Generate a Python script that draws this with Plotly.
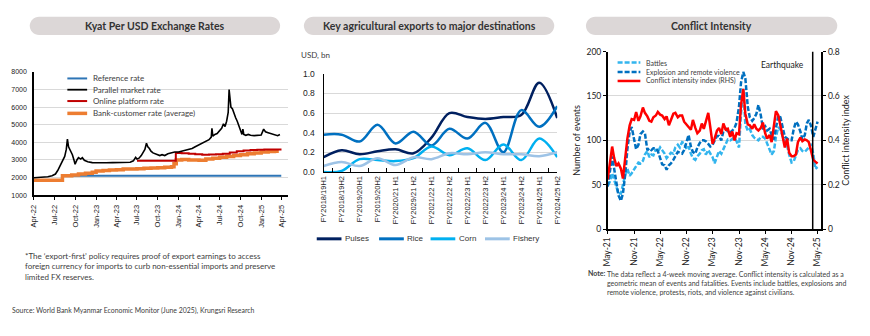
import plotly.graph_objects as go
import pandas as pd

W, H = 870, 336

# ---------------- Panel 1 data: Kyat per USD ----------------
par_dates = ["2022-04-01","2022-05-01","2022-06-01","2022-06-20","2022-07-05","2022-07-15","2022-07-25",
             "2022-08-05","2022-08-15","2022-08-22","2022-08-27","2022-09-01","2022-09-06","2022-09-12",
             "2022-09-18","2022-09-25","2022-09-30","2022-10-08","2022-10-15","2022-10-25","2022-11-01",
             "2022-11-10","2022-11-25","2022-12-15","2023-01-15","2023-02-15","2023-03-15","2023-04-15",
             "2023-05-15","2023-06-01","2023-06-15","2023-06-25","2023-07-01","2023-07-10","2023-07-20",
             "2023-07-28","2023-08-05","2023-08-12","2023-08-18","2023-08-25","2023-09-01","2023-09-10",
             "2023-09-20","2023-10-01","2023-10-10","2023-10-20","2023-11-01","2023-11-15","2023-12-01",
             "2023-12-15","2024-01-01","2024-01-15","2024-02-01","2024-02-15","2024-03-01","2024-03-15",
             "2024-04-01","2024-04-15","2024-05-01","2024-05-15","2024-05-25","2024-05-28","2024-06-01",
             "2024-06-10","2024-06-20","2024-07-01","2024-07-10","2024-07-18","2024-07-25","2024-08-01",
             "2024-08-08","2024-08-12","2024-08-16","2024-08-20","2024-08-27","2024-09-03","2024-09-10",
             "2024-09-17","2024-09-24","2024-10-01","2024-10-08","2024-10-12","2024-10-16","2024-10-25",
             "2024-11-05","2024-11-15","2024-12-01","2024-12-15","2025-01-01","2025-01-12","2025-01-20",
             "2025-02-01","2025-02-15","2025-03-01","2025-03-15","2025-03-25"]
par_vals = [1990,2000,2050,2100,2200,2400,2650,
            2900,3200,3600,4180,3750,3600,3500,
            3300,3000,2760,3000,3130,3050,3130,
            2980,2900,2850,2830,2840,2850,2850,
            2860,2870,2950,3150,3050,3100,3250,
            3400,3600,3950,3750,3650,3500,3400,
            3350,3300,3250,3300,3250,3350,3400,
            3450,3450,3500,3550,3600,3650,3750,
            3850,3950,4050,4150,4300,4800,4350,
            4450,4500,4650,4800,5050,4900,5200,
            5700,7000,6300,6000,5900,5600,5400,
            5200,4900,4700,4450,4750,4450,4400,
            4450,4400,4380,4400,4420,4750,4600,
            4550,4480,4420,4380,4450]

ref_dates = ["2022-04-01","2022-08-05","2025-03-31"]
ref_vals = [1850,2100,2100]

onl_dates = ["2023-07-01","2023-12-20","2024-01-15","2024-02-15","2024-03-15","2024-04-15","2024-05-15",
             "2024-06-15","2024-07-15","2024-08-15","2024-09-15","2024-10-15","2024-11-15","2024-12-15",
             "2025-01-15","2025-02-15","2025-04-01"]
onl_vals = [2950,3400,3380,3350,3330,3300,3310,3330,3360,3420,3500,3540,3570,3580,3600,3600,3600]

bank_dates = ["2022-04-01","2022-08-05","2022-09-15","2022-10-15","2022-11-15","2022-12-15","2023-01-01",
              "2023-02-01","2023-03-01","2023-04-01","2023-05-01","2023-07-01","2023-08-01","2023-09-01",
              "2023-10-01","2023-11-01","2023-12-01","2023-12-12","2023-12-22","2024-01-15","2024-02-15",
              "2024-04-01","2024-05-01","2024-06-01","2024-07-01","2024-08-01","2024-09-01","2024-10-01",
              "2024-11-01","2024-12-01","2025-01-01","2025-02-01","2025-03-01","2025-03-20"]
bank_vals = [1850,2100,2150,2200,2250,2300,2380,
             2400,2430,2450,2480,2500,2530,2550,
             2560,2580,2620,2780,3000,3030,3000,
             2990,3050,3100,3150,3200,3250,3300,
             3350,3400,3450,3480,3500,3500]

fx_ticks = ["2022-04-01","2022-07-01","2022-10-01","2023-01-01","2023-04-01","2023-07-01","2023-10-01",
            "2024-01-01","2024-04-01","2024-07-01","2024-10-01","2025-01-01","2025-04-01"]
fx_ticklabels = ["Apr-22","Jul-22","Oct-22","Jan-23","Apr-23","Jul-23","Oct-23",
                 "Jan-24","Apr-24","Jul-24","Oct-24","Jan-25","Apr-25"]

# ---------------- Panel 2 data: agricultural exports ----------------
periods = ["FY2018/19H1","FY2018/19H2","FY2019/20H1","FY2019/20H2","FY2020/21 H1","FY2029/21 H2",
           "FY2021/22 H1","FY2021/22 H2","FY2022/23 H1","FY2022/23 H2","FY2023/24 H1","FY2023/24 H2",
           "FY2024/25 H1","FY2024/25 H2"]
pulses = [0.15,0.22,0.18,0.21,0.23,0.19,0.35,0.60,0.56,0.54,0.56,0.58,0.91,0.55]
rice = [0.38,0.38,0.31,0.48,0.29,0.41,0.27,0.44,0.34,0.50,0.20,0.63,0.46,0.67]
corn = [0.0,0.01,0.13,0.12,0.11,0.14,0.26,0.17,0.24,0.12,0.28,0.12,0.34,0.15]
fishery = [0.06,0.10,0.06,0.14,0.07,0.15,0.13,0.19,0.18,0.20,0.18,0.18,0.16,0.20]

# ---------------- Panel 3 data: conflict intensity (semi-monthly, 4-week MA) ----------------
battles = [49,53,63,55,45,40,40,50,62,68,
           60,63,67,71,75,74,77,84,88,81,
           84,83,90,87,92,89,85,80,84,86,
           85,92,95,92,98,97,90,93,85,80,
           78,82,85,89,90,84,89,85,81,74,
           83,88,85,90,98,101,100,101,103,99,
           92,130,158,118,111,113,106,103,101,100,
           104,104,102,97,90,84,88,104,115,112,
           104,99,94,84,75,76,84,89,91,88,
           87,89,92,96,85,68,70]
explosion = [48,62,82,68,52,38,32,40,63,90,
             110,115,101,90,95,107,110,108,89,91,
             89,91,91,88,80,73,72,67,72,74,
             78,82,87,86,85,89,99,106,93,87,
             85,92,97,100,100,99,96,93,95,100,
             105,105,100,110,113,110,109,111,114,120,
             138,165,177,170,138,126,122,125,130,140,
             128,114,116,111,113,106,101,114,128,126,
             114,104,102,100,100,112,121,118,110,101,
             106,119,123,117,104,112,121]
intensity = [0.224,0.300,0.372,0.320,0.284,0.296,0.272,0.228,0.328,0.408,
             0.468,0.496,0.492,0.528,0.488,0.508,0.548,0.524,0.508,0.488,
             0.484,0.504,0.512,0.528,0.516,0.512,0.496,0.508,0.468,0.488,
             0.520,0.524,0.504,0.512,0.512,0.484,0.468,0.460,0.448,0.492,
             0.456,0.432,0.444,0.476,0.452,0.488,0.524,0.460,0.384,0.408,
             0.444,0.456,0.428,0.476,0.448,0.452,0.416,0.440,0.400,0.432,
             0.428,0.560,0.632,0.520,0.472,0.468,0.452,0.472,0.452,0.444,
             0.456,0.480,0.432,0.408,0.424,0.392,0.480,0.532,0.512,0.464,
             0.400,0.368,0.408,0.344,0.328,0.328,0.336,0.392,0.412,0.396,
             0.404,0.400,0.392,0.360,0.312,0.304,0.296]
conf_dates = pd.date_range("2021-05-01", periods=len(battles), freq="SMS")
earthquake_date = "2025-03-28"
conf_ticks = ["2021-05-01","2021-11-01","2022-05-01","2022-11-01","2023-05-01","2023-11-01",
              "2024-05-01","2024-11-01","2025-05-01"]
conf_ticklabels = ["May-21","Nov-21","May-22","Nov-22","May-23","Nov-23","May-24","Nov-24","May-25"]

# ---------------- helpers (pixel -> paper) ----------------
def X(px):
    return px / W

def Y(py):
    return 1 - py / H

def pill(x0, y0, x1, y1):
    r = (y1 - y0) / 2
    k = 0.5523 * r
    ym = y0 + r
    pts = [("M", [(x0 + r, y0)]), ("L", [(x1 - r, y0)]),
           ("C", [(x1 - r + k, y0), (x1, ym - k), (x1, ym)]),
           ("C", [(x1, ym + k), (x1 - r + k, y1), (x1 - r, y1)]),
           ("L", [(x0 + r, y1)]),
           ("C", [(x0 + r - k, y1), (x0, ym + k), (x0, ym)]),
           ("C", [(x0, ym - k), (x0 + r - k, y0), (x0 + r, y0)])]
    s = ""
    for cmd, ps in pts:
        s += cmd + " " + " ".join(f"{X(a):.5f},{Y(b):.5f}" for a, b in ps) + " "
    return s + "Z"

CAL = "Lato"
TXT = "#404040"
GRID = "#D9D9D9"

C_REF, C_PAR, C_ONL, C_BANK = "#2E75B6", "black", "#C00000", "#ED7D31"
C_PUL, C_RICE, C_CORN, C_FISH = "#002060", "#0070C0", "#00B0F0", "#9DC3E6"
C_BAT, C_EXP, C_INT = "#33B5EE", "#0070C0", "#FF0000"

fig = go.Figure()

# Panel 1 traces
fig.add_trace(go.Scatter(x=ref_dates, y=ref_vals, mode="lines", line=dict(color=C_REF, width=2, shape="hv"),
                         name="Reference rate", xaxis="x", yaxis="y", showlegend=False))
fig.add_trace(go.Scatter(x=bank_dates, y=bank_vals, mode="lines", line=dict(color=C_BANK, width=3.5, shape="hv"),
                         name="Bank-customer rate (average)", xaxis="x", yaxis="y", showlegend=False))
fig.add_trace(go.Scatter(x=onl_dates, y=onl_vals, mode="lines", line=dict(color=C_ONL, width=2, shape="hv"),
                         name="Online platform rate", xaxis="x", yaxis="y", showlegend=False))
fig.add_trace(go.Scatter(x=par_dates, y=par_vals, mode="lines", line=dict(color=C_PAR, width=1.6),
                         name="Parallel market rate", xaxis="x", yaxis="y", showlegend=False))

# Panel 2 traces
for nm, vals, col in [("Pulses", pulses, C_PUL), ("Rice", rice, C_RICE),
                      ("Corn", corn, C_CORN), ("Fishery", fishery, C_FISH)]:
    fig.add_trace(go.Scatter(x=periods, y=vals, mode="lines", name=nm,
                             line=dict(color=col, width=2.5, shape="spline", smoothing=1.0),
                             xaxis="x2", yaxis="y2", showlegend=False))

# Panel 3 traces
fig.add_trace(go.Scatter(x=conf_dates, y=battles, mode="lines", name="Battles",
                         line=dict(color=C_BAT, width=2.5, dash="5px,2px"), xaxis="x3", yaxis="y3", showlegend=False))
fig.add_trace(go.Scatter(x=conf_dates, y=explosion, mode="lines", name="Explosion and remote violence",
                         line=dict(color=C_EXP, width=2.5, dash="5px,2px"), xaxis="x3", yaxis="y3", showlegend=False))
fig.add_trace(go.Scatter(x=conf_dates, y=intensity, mode="lines", name="Conflict intensity index (RHS)",
                         line=dict(color=C_INT, width=2.5), xaxis="x3", yaxis="y4", showlegend=False))

shapes = []
annotations = []

# title pills
for (x0, x1, title) in [(25, 278, "Kyat Per USD Exchange Rates"),
                        (302, 555, "Key agricultural exports to major destinations"),
                        (587, 841, "Conflict Intensity")]:
    shapes.append(dict(type="path", path=pill(x0, 12, x1, 31), xref="paper", yref="paper",
                       fillcolor="#DCD7D7", line=dict(width=0), layer="below"))
    annotations.append(dict(x=X((x0 + x1) / 2), y=Y(21.5), xref="paper", yref="paper", text=f"<b>{title}</b>",
                            showarrow=False, font=dict(family=CAL, size=10.5, color="#333333"),
                            xanchor="center", yanchor="middle"))

# Panel 1 legend
leg1 = [("Reference rate", C_REF, 2, 75.7), ("Parallel market rate", C_PAR, 1.8, 87.3),
        ("Online platform rate", C_ONL, 2, 99), ("Bank-customer rate (average)", C_BANK, 3.5, 111.7)]
for txt, col, w, yy in leg1:
    shapes.append(dict(type="line", xref="paper", yref="paper", x0=X(63), x1=X(83), y0=Y(yy), y1=Y(yy),
                       line=dict(color=col, width=w)))
    annotations.append(dict(x=X(86.5), y=Y(yy), xref="paper", yref="paper", text=txt, showarrow=False,
                            xanchor="left", yanchor="middle", font=dict(family=CAL, size=8, color=TXT)))

# Panel 2 legend (horizontal, under the axis labels)
leg2 = [("Pulses", C_PUL, 315), ("Rice", C_RICE, 378), ("Corn", C_CORN, 430), ("Fishery", C_FISH, 485)]
for txt, col, x0 in leg2:
    shapes.append(dict(type="line", xref="paper", yref="paper", x0=X(x0), x1=X(x0 + 25), y0=Y(241), y1=Y(241),
                       line=dict(color=col, width=3)))
    annotations.append(dict(x=X(x0 + 26.5), y=Y(241), xref="paper", yref="paper", text=txt, showarrow=False,
                            xanchor="left", yanchor="middle",
                            font=dict(family="Liberation Sans", size=8, color="#333333")))

# Panel 3 legend
leg3 = [("Battles", C_BAT, True, 59.3), ("Explosion and remote violence", C_EXP, True, 69),
        ("Conflict intensity index (RHS)", C_INT, False, 78.3)]
for txt, col, ds, yy in leg3:
    shapes.append(dict(type="line", xref="paper", yref="paper", x0=X(619), x1=X(642), y0=Y(yy), y1=Y(yy),
                       line=dict(color=col, width=2.5, dash="5px,2px" if ds else "solid")))
    annotations.append(dict(x=X(645.5), y=Y(yy), xref="paper", yref="paper", text=txt, showarrow=False,
                            xanchor="left", yanchor="middle", font=dict(family=CAL, size=7, color=TXT)))

# Earthquake line
shapes.append(dict(type="line", xref="x3", yref="y3", x0=earthquake_date, x1=earthquake_date, y0=0, y1=200,
                   line=dict(color="black", width=1.5)))
annotations.append(dict(x=earthquake_date, y=185, xref="x3", yref="y3", text="Earthquake", showarrow=False,
                        xanchor="right", yanchor="middle", xshift=-7, font=dict(family=CAL, size=8.5, color="#222222")))

# Footnotes
annotations.append(dict(x=X(18), y=Y(251), xref="paper", yref="paper", align="left",
                        text="*The ‘export-first’ policy requires proof of export earnings to access<br>"
                             "foreign currency for imports to curb non-essential imports and preserve<br>"
                             "limited FX reserves.",
                        showarrow=False, xanchor="left", yanchor="top",
                        font=dict(family=CAL, size=8, color=TXT)))
annotations.append(dict(x=X(5), y=Y(315), xref="paper", yref="paper",
                        text="Source: World Bank Myanmar Economic Monitor (June 2025), Krungsri Research",
                        showarrow=False, xanchor="left", yanchor="middle",
                        font=dict(family=CAL, size=6.9, color=TXT)))
annotations.append(dict(x=X(297), y=Y(52), xref="paper", yref="paper", text="USD, bn", showarrow=False,
                        xanchor="left", yanchor="middle", font=dict(family=CAL, size=8, color=TXT)))
annotations.append(dict(x=X(587), y=Y(276), xref="paper", yref="paper", text="<b>Note:</b>", showarrow=False,
                        xanchor="left", yanchor="middle", font=dict(family=CAL, size=7, color=TXT)))
annotations.append(dict(x=X(606), y=Y(271), xref="paper", yref="paper", align="left",
                        text="The data reflect a 4-week moving average. Conflict intensity is calculated as a<br>"
                             "geometric mean of events and fatalities. Events include battles, explosions and<br>"
                             "remote violence, protests, riots, and violence against civilians.",
                        showarrow=False, xanchor="left", yanchor="top",
                        font=dict(family=CAL, size=7, color=TXT)))

tick_font_small = dict(family="Liberation Sans", size=7, color="#222222")

fig.update_layout(
    width=W, height=H, margin=dict(l=0, r=0, t=0, b=0),
    paper_bgcolor="white", plot_bgcolor="rgba(0,0,0,0)",
    font=dict(family="Liberation Sans", color="#222222"),
    shapes=shapes, annotations=annotations,
    # Panel 1
    xaxis=dict(domain=[X(29.3), X(286)], type="date", range=["2022-04-01", "2025-04-30"],
               tickmode="array", tickvals=fx_ticks, ticktext=fx_ticklabels, tickangle=-90,
               ticks="outside", ticklen=3, tickcolor="black", showline=True, linecolor="black", linewidth=1.5,
               showgrid=False, tickfont=dict(family="Liberation Sans", size=7.5, color="#222222"), anchor="y",
               ticklabelstandoff=2),
    yaxis=dict(domain=[Y(196), Y(69)], range=[1000, 8000], dtick=1000, tickformat="d",
               showline=True, linecolor="black", linewidth=1.5, showgrid=True, gridcolor=GRID, gridwidth=1,
               tickfont=tick_font_small, anchor="x", zeroline=False, ticks="", ticklabelstandoff=4),
    # Panel 2
    xaxis2=dict(domain=[X(322), X(558)], type="category", tickangle=-90, ticks="inside", ticklen=4,
                tickcolor="black", tickson="boundaries", showline=True, linecolor="black", linewidth=1.2,
                showgrid=False, tickfont=dict(family="Liberation Sans", size=7.5, color="#222222"), anchor="y2"),
    yaxis2=dict(domain=[Y(172), Y(71)], range=[0, 1.0], dtick=0.2, tickformat=".1f",
                showline=True, linecolor="black", linewidth=1.2, showgrid=True, gridcolor=GRID,
                tickfont=dict(family="Liberation Sans", size=8.5, color="#222222"), anchor="x2", zeroline=False,
                ticklabelstandoff=6),
    # Panel 3
    xaxis3=dict(domain=[X(609), X(825)], type="date", range=["2021-05-01", "2025-05-28"],
                tickmode="array", tickvals=conf_ticks, ticktext=conf_ticklabels, tickangle=-90,
                ticks="outside", ticklen=3, tickcolor="black", showline=True, linecolor="black", linewidth=1.5,
                showgrid=False, tickfont=dict(family=CAL, size=8.5, color="#222222"), anchor="y3"),
    yaxis3=dict(domain=[Y(231), Y(48)], range=[0, 200], dtick=50,
                showline=True, linecolor="black", linewidth=1.5, showgrid=True, gridcolor=GRID,
                ticks="outside", ticklen=3, tickcolor="black",
                tickfont=dict(family=CAL, size=8.5, color="#222222"), anchor="x3", zeroline=False,
                title=dict(text="Number of events", font=dict(family=CAL, size=9, color="#222222"), standoff=4)),
    yaxis4=dict(domain=[Y(231), Y(48)], range=[0, 0.8], dtick=0.2, overlaying="y3", side="right",
                showline=True, linecolor="black", linewidth=1.5, showgrid=False,
                ticks="outside", ticklen=3, tickcolor="black",
                tickfont=dict(family=CAL, size=8.5, color="#222222"), anchor="x3", zeroline=False,
                title=dict(text="Conflict intensity index", font=dict(family=CAL, size=9, color="#222222"), standoff=4)),
)

fig.write_html("out.html")
